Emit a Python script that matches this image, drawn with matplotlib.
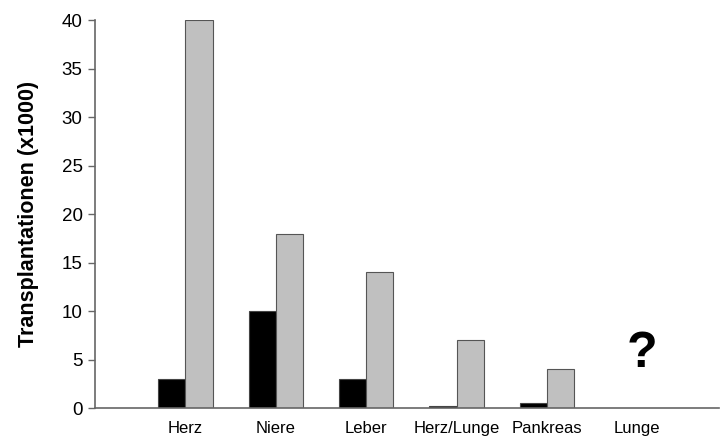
import numpy as np
import matplotlib.pyplot as plt

plt.rcParams['font.family'] = ['Liberation Sans', 'DejaVu Sans']

categories = ['Herz', 'Niere', 'Leber', 'Herz/Lunge', 'Pankreas', 'Lunge']
black_vals = [3, 10, 3, 0.2, 0.5, np.nan]
gray_vals = [40, 18, 14, 7, 4, np.nan]

fig = plt.figure(figsize=(7.2, 4.37), dpi=100)
ax = fig.add_axes([0.132, 0.066, 0.866, 0.888])

x = np.arange(len(categories))
w = 0.30
ax.bar(x - w / 2, black_vals, w, color='black', edgecolor='#444444', linewidth=0.8)
ax.bar(x + w / 2, gray_vals, w, color='#c0c0c0', edgecolor='#555555', linewidth=0.8)

ax.text(x[-1] + 0.05, 5.6, '?', ha='center', va='center', fontsize=36, fontweight='bold')

ax.set_xlim(-1.0, 5.9)
ax.set_ylim(0, 40)
ax.set_yticks(range(0, 41, 5))
ax.set_xticks(x)
ax.set_xticklabels(categories, fontsize=12)
ax.tick_params(axis='x', length=0, pad=9)
ax.tick_params(axis='y', length=5, width=1, color='#666666', labelsize=13.5, pad=4)
for s in ['top', 'right']:
    ax.spines[s].set_visible(False)
for s in ['left', 'bottom']:
    ax.spines[s].set_color('#666666')
    ax.spines[s].set_linewidth(1.2)
ax.set_ylabel('Transplantationen (x1000)', fontsize=15.5, fontweight='bold', labelpad=16)

fig.savefig('out.png', dpi=100)
